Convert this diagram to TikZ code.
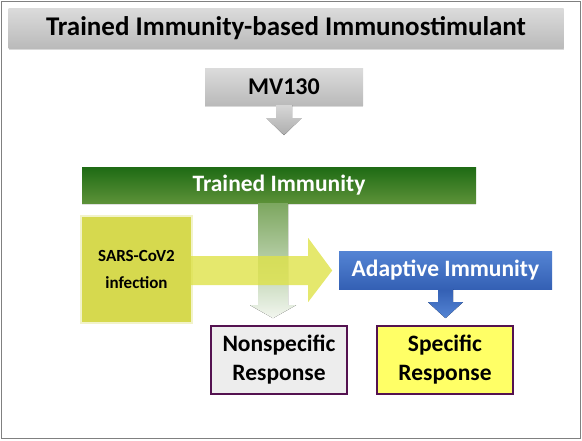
\documentclass[tikz,border=0pt]{standalone}
\usepackage{fontspec}
\setmainfont{Carlito}
\usepackage{tikz}
\usetikzlibrary{calc,shadows}

\definecolor{trainedgreen}{RGB}{30,107,20}
\definecolor{trainedlight}{RGB}{92,145,56}
\definecolor{sarsyellow}{RGB}{214,217,78}
\definecolor{arrowyellow}{RGB}{222,226,72}
\definecolor{adaptblue}{RGB}{84,132,212}
\definecolor{adaptdark}{RGB}{52,96,180}
\definecolor{boxpurple}{RGB}{84,18,80}
\definecolor{specyellow}{RGB}{255,255,102}

\begin{document}
\begin{tikzpicture}[x=1pt,y=-1pt,
    graybar/.style={inner sep=0pt, top color=black!14, bottom color=black!27,
      drop shadow={shadow xshift=0pt,shadow yshift=-2pt,opacity=.3}},
    respbox/.style={draw=boxpurple, line width=1.6pt, inner sep=0pt, minimum width=136pt,
      minimum height=68pt, align=center, font=\fontsize{23.5}{29}\selectfont\bfseries}]
  \useasboundingbox (0,0) rectangle (582,440);
  \draw[black!50, line width=0.8pt] (1.5,1.5) rectangle (580,438);

  \node[graybar, minimum width=555pt, minimum height=40pt, font=\fontsize{27}{30}\selectfont\bfseries] (title) at (286,28) {Trained Immunity-based Immunostimulant};
  \node[graybar, minimum width=158pt, minimum height=37pt, font=\fontsize{24}{28}\selectfont\bfseries] (mv) at (284,86.5) {MV130};
  \fill[top color=black!16, bottom color=black!32]
    ($(mv.south)+(-8,0)$) -- ($(mv.south)+(-8,13)$) -- ($(mv.south)+(-17.5,13)$) -- ($(mv.south)+(0,30)$)
    -- ($(mv.south)+(17.5,13)$) -- ($(mv.south)+(8,13)$) -- ($(mv.south)+(8,0)$) -- cycle;

  \node[inner sep=0pt, minimum width=394pt, minimum height=36pt, top color=trainedgreen, bottom color=trainedlight,
    text=white, font=\fontsize{23.5}{27}\selectfont\bfseries,
    drop shadow={shadow xshift=0pt,shadow yshift=-2pt,opacity=.25}] (trained) at (279,185) {Trained Immunity};
  % fading arrow down to the nonspecific response
  \fill[top color=trainedlight!80, bottom color=trainedlight!8]
    ($(trained.south)+(-21,0)$) -- ($(trained.south)+(-21,102)$) -- ($(trained.south)+(-29,102)$) -- ($(trained.south)+(-6,115)$)
    -- ($(trained.south)+(17,102)$) -- ($(trained.south)+(9,102)$) -- ($(trained.south)+(9,0)$) -- cycle;

  \node[inner sep=0pt, minimum width=109pt, minimum height=105pt, fill=sarsyellow, align=center,
    font=\fontsize{17}{27}\selectfont\bfseries,
    drop shadow={shadow xshift=0pt,shadow yshift=0pt,shadow scale=1.04,fill=sarsyellow!60,opacity=.5}] (sars) at (136.5,269.5) {SARS-CoV2\\infection};
  \fill[arrowyellow, opacity=.8]
    ($(sars.east)+(0,-13.5)$) -- ($(sars.east)+(117,-13.5)$) -- ($(sars.east)+(117,-31.5)$) -- ($(sars.east)+(141,1)$)
    -- ($(sars.east)+(117,32.5)$) -- ($(sars.east)+(117,15.5)$) -- ($(sars.east)+(0,15.5)$) -- cycle;

  \node[inner sep=0pt, minimum width=213pt, minimum height=38pt, top color=adaptblue, bottom color=adaptdark,
    text=white, font=\fontsize{23.5}{27}\selectfont\bfseries] (adapt) at (445.5,270) {Adaptive Immunity};
  \fill[top color=adaptdark, bottom color=adaptblue]
    ($(adapt.south)+(-7.5,0)$) -- ($(adapt.south)+(-7.5,13)$) -- ($(adapt.south)+(-17.5,13)$) -- ($(adapt.south)+(0,29)$)
    -- ($(adapt.south)+(17.5,13)$) -- ($(adapt.south)+(7.5,13)$) -- ($(adapt.south)+(7.5,0)$) -- cycle;

  \node[respbox, fill=black!7] (nonspec) at (279,360) {Nonspecific\\Response};
  \node[respbox, fill=specyellow] (spec) at (445,360) {Specific\\Response};
\end{tikzpicture}
\end{document}
